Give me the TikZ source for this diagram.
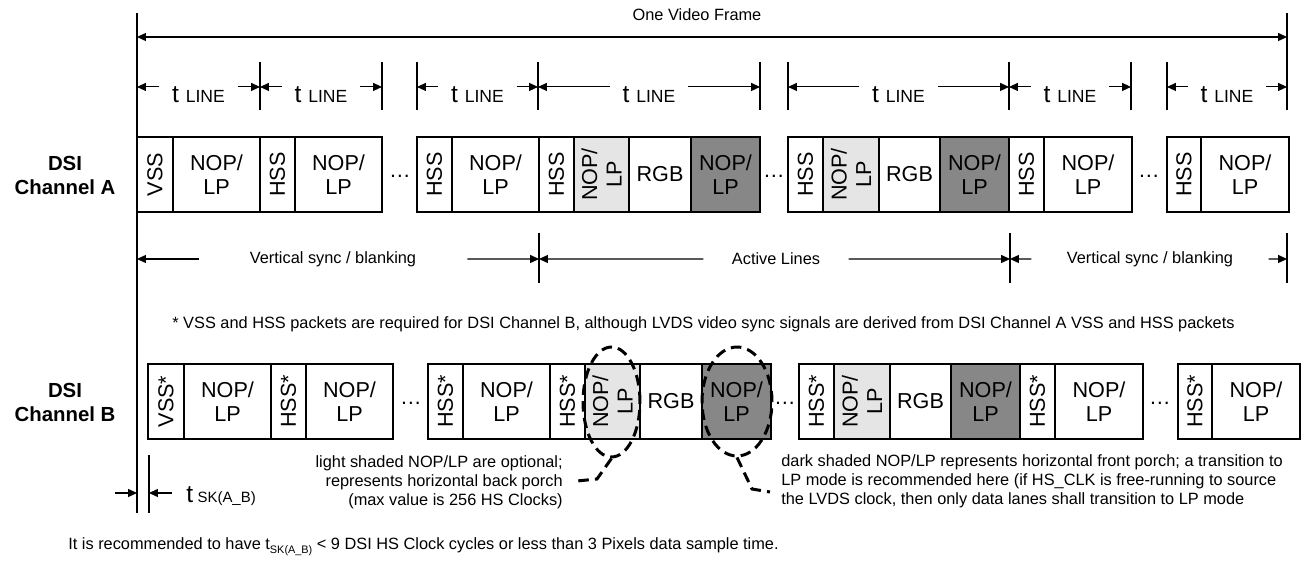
\documentclass[tikz,border=0pt]{standalone}
\usepackage{fontspec}
\setmainfont{Liberation Sans}
\usetikzlibrary{arrows.meta,positioning,calc,shapes.geometric}

\newcommand{\nlp}{NOP/\\LP}
\newcommand{\tline}{\fontsize{14}{16}\selectfont t \fontsize{10}{12}\selectfont LINE}
\newcommand{\tsk}{\fontsize{14}{16}\selectfont t\hspace{2.5pt}\fontsize{8.5}{10}\selectfont SK(A\_B)}

\begin{document}
\begin{tikzpicture}[
  x=0.02cm, y=-0.02cm,
  cellbox/.style={draw, line width=0.75pt},
  plain/.style={cellbox, fill=white},
  lite/.style={cellbox, fill=black!10},
  dark/.style={cellbox, fill=black!47},
  htxt/.style={font=\fontsize{12.3}{14}\selectfont, align=center, inner sep=0pt},
  vtxt/.style={htxt, rotate=90},
  chan/.style={font=\fontsize{11.6}{14.2}\selectfont\bfseries, align=center},
  note/.style={font=\fontsize{9.3}{10.8}\selectfont, inner sep=0pt},
  tick/.style={line width=0.6pt},
  arr/.style={-{Triangle[length=5pt,width=4.5pt]}, line width=0.6pt},
  framearr/.style={{Triangle[length=5pt,width=4.5pt]}-{Triangle[length=5pt,width=4.5pt]}, line width=0.6pt},
  tl/.style={inner xsep=7pt, inner ysep=0pt},
  hl/.style={line width=1.7pt, dash pattern=on 6pt off 3.5pt},
]
  \useasboundingbox (0,0) rectangle (1302,567);

  % frame limits and the long left line
  \draw[tick] (137,13) -- (137,513);
  \draw[tick] (1287,13) -- (1287,110);
  \coordinate (fl) at (137,37);
  \coordinate (fr) at (1287,37);
  \draw[framearr] (fl) -- (fr);
  \node[note] (frame) at (697,15) {One Video Frame};

  % line periods
  \foreach \x [count=\i from 0] in {137,260,382,417,538,760,788,1009,1131,1167,1287}
    \draw[tick] (\x,62) -- (\x,110) coordinate[pos=.52] (k\i);
  \foreach \a/\b [count=\i] in {0/1,1/2,3/4,4/5,6/7,7/8,9/10} {
    \node[tl, anchor=base] (tl\i) at ($(k\a)!.5!(k\b)+(0,16)$) {\tline};
    \draw[arr] (tl\i.west |- k\a) -- (k\a);
    \draw[arr] (tl\i.east |- k\b) -- (k\b);
  }

  % packets, channel A and channel B
  \foreach \n/\xa/\xb/\bx/\tx/\la/\lb in {
    1/137/173/plain/vtxt/VSS/VSS*, 2/173/260/plain/htxt/\nlp/\nlp,
    3/260/295/plain/vtxt/HSS/HSS*, 4/295/382/plain/htxt/\nlp/\nlp,
    5/417/452/plain/vtxt/HSS/HSS*, 6/452/539/plain/htxt/\nlp/\nlp,
    7/539/574/plain/vtxt/HSS/HSS*, 8/574/629/lite/vtxt/\nlp/\nlp,
    9/629/691/plain/htxt/RGB/RGB, 10/691/760/dark/htxt/\nlp/\nlp,
    11/788/823/plain/vtxt/HSS/HSS*, 12/823/879/lite/vtxt/\nlp/\nlp,
    13/879/940/plain/htxt/RGB/RGB, 14/940/1009/dark/htxt/\nlp/\nlp,
    15/1009/1044/plain/vtxt/HSS/HSS*, 16/1044/1132/plain/htxt/\nlp/\nlp,
    17/1167/1201/plain/vtxt/HSS/HSS*, 18/1201/1289/plain/htxt/\nlp/\nlp} {
    \draw[\bx] (\xa,137) rectangle (\xb,212);
    \node[\tx] (a\n) at ({(\xa+\xb)/2},174.5) {\la};
    \draw[\bx] (\xa+11,364) rectangle (\xb+11,439);
    \node[\tx] (b\n) at ({(\xa+\xb)/2+11},401.5) {\lb};
  }
  \foreach \x [count=\i] in {400,774,1149} {
    \node[htxt] (da\i) at (\x,176) {\ldots};
    \node[htxt] (db\i) at (\x+11,403) {\ldots};
  }
  \node[chan] (cha) at (65,175.5) {DSI\\Channel A};
  \node[chan] (chb) at (65,402.5) {DSI\\Channel B};

  % blanking / active
  \coordinate (s0) at (137,259);
  \foreach \x [count=\i] in {539,1010,1287}
    \draw[tick] (\x,233) -- (\x,283) coordinate[pos=.52] (s\i);
  \node[note, inner xsep=29pt] (vb1) at (333,259) {Vertical sync / blanking};
  \node[note, inner xsep=16pt] (act) at (776,259) {Active Lines};
  \node[note, inner xsep=20pt] (vb2) at (1150,259) {Vertical sync / blanking};
  \draw[arr] (vb1) -- (s0);
  \draw[arr] (vb1) -- (s1);
  \draw[arr] (act) -- (s1);
  \draw[arr] (act) -- (s2);
  \draw[arr] (vb2) -- (s2);
  \draw[arr] (vb2) -- (s3);

  \node[note, anchor=west] (foot) at (172,324) {* VSS and HSS packets are required for DSI Channel B, although LVDS video sync signals are derived from DSI Channel A VSS and HSS packets};

  % highlighted porches
  \node[hl, draw, ellipse, inner sep=0pt, minimum width=1.14cm, minimum height=2.2cm] (elite) at (611.5,402) {};
  \node[hl, draw, ellipse, inner sep=0pt, minimum width=1.4cm, minimum height=2.18cm] (edark) at (737,401.5) {};
  \coordinate (lbend) at (597,479);
  \coordinate (lend) at (577,481);
  \coordinate (dbend) at (752,489);
  \coordinate (dend) at (770,492);
  \draw[hl] (elite.south) -- (lbend) -- (lend);
  \draw[hl] (edark.south) -- (dbend) -- (dend);
  \node[note, anchor=east, align=right] (litenote) at (563,482)
    {light shaded NOP/LP are optional;\\represents horizontal back porch\\(max value is 256 HS Clocks)};
  \node[note, anchor=west, align=left] (darknote) at (781,481)
    {dark shaded NOP/LP represents horizontal front porch; a transition to\\LP mode is recommended here (if HS\_CLK is free-running to source\\the LVDS clock, then only data lanes shall transition to LP mode};

  % skew between channels
  \draw[tick] (149,455) -- (149,513);
  \coordinate (sk0) at (137,493);
  \coordinate (sk1) at (149,493);
  \coordinate (ska) at (115,493);
  \node[anchor=west, inner xsep=8pt, inner ysep=0pt] (tsk) at (172,496) {\tsk};
  \draw[arr] (ska) -- (sk0);
  \draw[arr] (tsk.west |- sk1) -- (sk1);

  \node[note, anchor=west] (rec) at (68,547)
    {It is recommended to have t\raisebox{-2.3pt}{\fontsize{6.2}{7}\selectfont SK(A\_B)} < 9 DSI HS Clock cycles or less than 3 Pixels data sample time.};
\end{tikzpicture}
\end{document}
